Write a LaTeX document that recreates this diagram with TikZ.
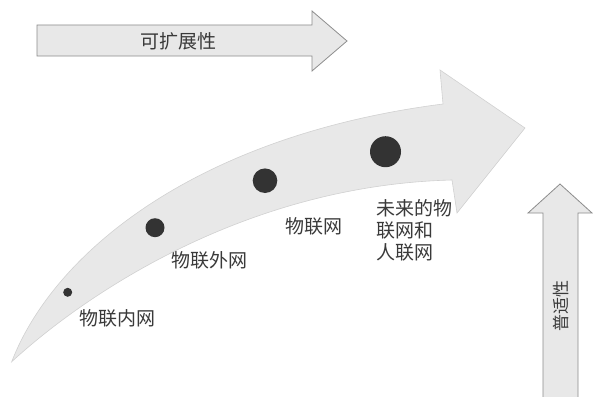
\documentclass[tikz,border=0pt]{standalone}
\usepackage{fontspec}
\setmainfont{Noto Sans CJK SC}
\definecolor{arrowfill}{HTML}{E8E8E8}
\definecolor{edgegray}{HTML}{8C8C8C}
\definecolor{dotc}{HTML}{333333}
\definecolor{textc}{HTML}{3A3A3A}
\begin{document}
\begin{tikzpicture}[x=1pt,y=-1pt,
  arrowshape/.style={fill=arrowfill, draw=edgegray, line width=0.8pt},
  curveshape/.style={fill=arrowfill, draw=black!18, line width=0.6pt},
  dot/.style={circle, fill=dotc, inner sep=0pt},
  lbl/.style={font=\fontsize{19}{22}\selectfont, text=textc, inner sep=0pt}]
\useasboundingbox (0,0) rectangle (593,396);
\fill[white] (0,0) rectangle (593,396);
\begin{scope}
\clip (0,0) rectangle (593,396);
% top arrow
\draw[arrowshape] (37,25) -- (312,25) -- (312,11) -- (347,41) -- (312,71) -- (312,56) -- (37,56) -- cycle;
\node[lbl] (kzx) at (178,41) {可扩展性};
% vertical arrow
\draw[arrowshape] (543,402) -- (543,213) -- (528,213) -- (560,184) -- (592,213) -- (578,213) -- (578,402);
\node[lbl, font=\fontsize{17}{17}\selectfont, rotate=90] (psx) at (561,306) {普适性};
% curved arrow
\draw[curveshape] (11.7,361.7) .. controls (55,250) and (200,135) .. (443,104) -- (440,70) -- (525,128) -- (457,213) -- (452,180) .. controls (250,185) and (90,290) .. (11.7,361.7) -- cycle;
\end{scope}
% dots
\node[dot, minimum size=9pt] (d1) at (67.7,292.3) {};
\node[dot, minimum size=19pt] (d2) at (155,227.7) {};
\node[dot, minimum size=24.6pt] (d3) at (265,180.7) {};
\node[dot, minimum size=31pt] (d4) at (385.5,151.7) {};
% labels
\node[lbl] (l1) at (117.5,318) {物联内网};
\node[lbl] (l2) at (209,260) {物联外网};
\node[lbl] (l3) at (314,226.7) {物联网};
\node[lbl, anchor=west, align=left] (l4) at (376,230) {未来的物\\联网和\\人联网};
\end{tikzpicture}
\end{document}
